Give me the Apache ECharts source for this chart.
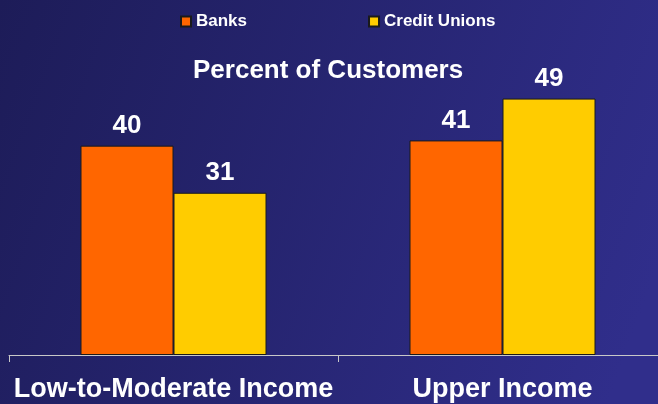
<!DOCTYPE html>
<html>
<head>
<meta charset="utf-8">
<script src="https://cdn.jsdelivr.net/npm/echarts@6/dist/echarts.min.js"></script>
<style>
  html, body { margin: 0; padding: 0; overflow: hidden; }
  /* canvas runs a little past the right edge so the axis continues off-screen */
  #chart { width: 667px; height: 404px; }
</style>
</head>
<body>
<div id="chart"></div>
<script>
const categories = ['Low-to-Moderate Income', 'Upper Income'];
const banks = [40, 41];
const creditUnions = [31, 49];

const chart = echarts.init(document.getElementById('chart'));
const font = 'Liberation Sans, Arial, sans-serif';

const valueLabel = {
  show: true, position: 'top', distance: 7,
  color: '#ffffff', fontFamily: font, fontWeight: 'bold', fontSize: 26
};

chart.setOption({
  backgroundColor: {
    type: 'linear', x: 0, y: 0, x2: 1, y2: 0.6,
    colorStops: [
      { offset: 0, color: '#1d1c58' },
      { offset: 1, color: '#302e8b' }
    ]
  },
  title: {
    text: 'Percent of Customers',
    left: 188,
    top: 53,
    textStyle: { color: '#ffffff', fontFamily: font, fontWeight: 'bold', fontSize: 26 }
  },
  legend: {
    top: 8,
    left: 175,
    itemWidth: 10,
    itemHeight: 10,
    itemGap: 121,
    icon: 'rect',
    textStyle: { color: '#ffffff', fontFamily: font, fontWeight: 'bold', fontSize: 17 },
    data: ['Banks', 'Credit Unions']
  },
  grid: { left: 9, right: 0, top: 41, bottom: 49 },
  xAxis: {
    type: 'category',
    data: categories,
    axisLine: { lineStyle: { color: '#c8c8c8', width: 1 } },
    axisTick: { show: true, length: 7, lineStyle: { color: '#c8c8c8' } },
    axisLabel: {
      interval: 0, color: '#ffffff', fontFamily: font,
      fontWeight: 'bold', fontSize: 27, margin: 21
    }
  },
  yAxis: {
    type: 'value',
    min: 0,
    max: 60,
    show: false,
    splitLine: { show: false }
  },
  series: [
    {
      name: 'Banks',
      type: 'bar',
      data: banks,
      barWidth: 93,
      barGap: '0%',
      itemStyle: { color: '#ff6600', borderColor: '#1a1a1a', borderWidth: 1 },
      label: valueLabel
    },
    {
      name: 'Credit Unions',
      type: 'bar',
      data: creditUnions,
      barWidth: 93,
      barGap: '0%',
      itemStyle: { color: '#ffcc00', borderColor: '#1a1a1a', borderWidth: 1 },
      label: valueLabel
    }
  ]
});
</script>
</body>
</html>
